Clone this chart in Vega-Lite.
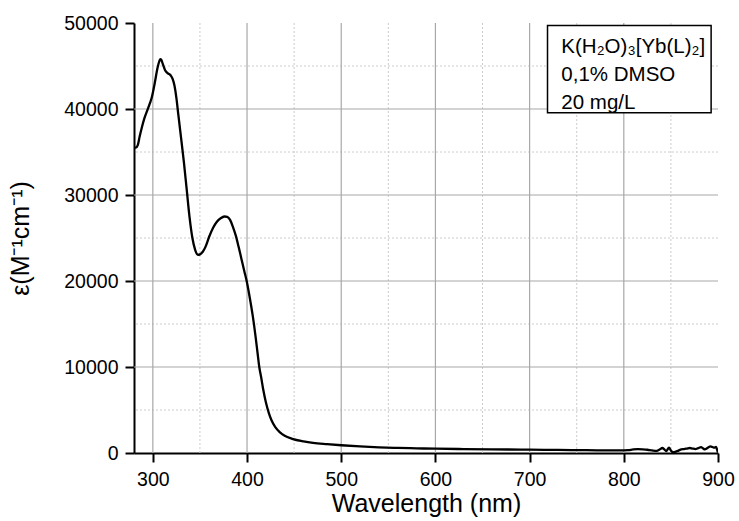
{
  "$schema": "https://vega.github.io/schema/vega-lite/v6.json",
  "width": 584,
  "height": 430,
  "autosize": "none",
  "padding": {"left": 134, "top": 23, "right": 21, "bottom": 68},
  "background": "white",
  "config": {"view": {"stroke": null}, "font": "Liberation Sans", "axis": {"domain": true, "ticks": true, "domainColor": "#000000", "tickColor": "#000000", "domainOpacity": 1, "tickOpacity": 1, "domainWidth": 2, "tickWidth": 2, "grid": false}},
  "datasets": {
    "xmajor": [{"v": 300}, {"v": 400}, {"v": 500}, {"v": 600}, {"v": 700}, {"v": 800}],
    "xminor": [{"v": 350}, {"v": 450}, {"v": 550}, {"v": 650}, {"v": 750}, {"v": 850}],
    "ymajor": [{"v": 10000}, {"v": 20000}, {"v": 30000}, {"v": 40000}],
    "yminor": [{"v": 5000}, {"v": 15000}, {"v": 25000}, {"v": 35000}, {"v": 45000}]
  },
  "layer": [
    {
      "data": {"name": "xminor"},
      "mark": {"type": "rule", "color": "#cccccc", "strokeWidth": 1, "strokeDash": [2, 2]},
      "encoding": {"x": {"field": "v", "type": "quantitative", "title": "Wavelength (nm)"}}
    },
    {
      "data": {"name": "yminor"},
      "mark": {"type": "rule", "color": "#cccccc", "strokeWidth": 1, "strokeDash": [2, 2]},
      "encoding": {"y": {"field": "v", "type": "quantitative", "title": "ε(M⁻¹cm⁻¹)"}}
    },
    {
      "data": {"name": "xmajor"},
      "mark": {"type": "rule", "color": "#a8a8a8", "strokeWidth": 1.2},
      "encoding": {"x": {"field": "v", "type": "quantitative", "title": "Wavelength (nm)"}}
    },
    {
      "data": {"name": "ymajor"},
      "mark": {"type": "rule", "color": "#a8a8a8", "strokeWidth": 1.2},
      "encoding": {"y": {"field": "v", "type": "quantitative", "title": "ε(M⁻¹cm⁻¹)"}}
    },
    {
      "data": {"values": [
        {"wavelength": 280, "eps": 35600}, {"wavelength": 282, "eps": 35500}, {"wavelength": 284, "eps": 35800},
        {"wavelength": 286, "eps": 36800}, {"wavelength": 288, "eps": 37700}, {"wavelength": 291, "eps": 38900},
        {"wavelength": 294, "eps": 39800}, {"wavelength": 297, "eps": 40700}, {"wavelength": 299, "eps": 41400},
        {"wavelength": 302, "eps": 43000}, {"wavelength": 305, "eps": 44800}, {"wavelength": 307, "eps": 45600},
        {"wavelength": 308, "eps": 45800}, {"wavelength": 309, "eps": 45700}, {"wavelength": 311, "eps": 45100},
        {"wavelength": 313, "eps": 44500}, {"wavelength": 316, "eps": 44150}, {"wavelength": 319, "eps": 43900},
        {"wavelength": 321, "eps": 43500}, {"wavelength": 323, "eps": 42700}, {"wavelength": 325, "eps": 41300},
        {"wavelength": 327, "eps": 39400}, {"wavelength": 330, "eps": 36600}, {"wavelength": 333, "eps": 33800},
        {"wavelength": 336, "eps": 30600}, {"wavelength": 339, "eps": 27400}, {"wavelength": 342, "eps": 25000},
        {"wavelength": 345, "eps": 23600}, {"wavelength": 348, "eps": 23050}, {"wavelength": 350, "eps": 23100},
        {"wavelength": 353, "eps": 23400}, {"wavelength": 356, "eps": 24000}, {"wavelength": 360, "eps": 25200},
        {"wavelength": 364, "eps": 26200}, {"wavelength": 368, "eps": 26900}, {"wavelength": 372, "eps": 27300},
        {"wavelength": 376, "eps": 27500}, {"wavelength": 379, "eps": 27450}, {"wavelength": 382, "eps": 27100},
        {"wavelength": 385, "eps": 26300}, {"wavelength": 388, "eps": 25300}, {"wavelength": 391, "eps": 24000},
        {"wavelength": 394, "eps": 22600}, {"wavelength": 397, "eps": 21200}, {"wavelength": 400, "eps": 19800},
        {"wavelength": 403, "eps": 18000}, {"wavelength": 406, "eps": 16000}, {"wavelength": 409, "eps": 13600},
        {"wavelength": 411, "eps": 11800}, {"wavelength": 413, "eps": 10000}, {"wavelength": 415, "eps": 8800},
        {"wavelength": 417, "eps": 7500}, {"wavelength": 420, "eps": 5900}, {"wavelength": 423, "eps": 4700},
        {"wavelength": 426, "eps": 3800}, {"wavelength": 430, "eps": 3000}, {"wavelength": 435, "eps": 2400},
        {"wavelength": 440, "eps": 2000}, {"wavelength": 448, "eps": 1650}, {"wavelength": 460, "eps": 1350},
        {"wavelength": 470, "eps": 1180}, {"wavelength": 485, "eps": 1030}, {"wavelength": 500, "eps": 900},
        {"wavelength": 520, "eps": 760}, {"wavelength": 540, "eps": 660}, {"wavelength": 560, "eps": 590},
        {"wavelength": 580, "eps": 540}, {"wavelength": 600, "eps": 500}, {"wavelength": 630, "eps": 460},
        {"wavelength": 660, "eps": 420}, {"wavelength": 700, "eps": 390}, {"wavelength": 730, "eps": 360},
        {"wavelength": 760, "eps": 330}, {"wavelength": 790, "eps": 300}, {"wavelength": 800, "eps": 310},
        {"wavelength": 805, "eps": 330}, {"wavelength": 810, "eps": 420}, {"wavelength": 815, "eps": 440},
        {"wavelength": 820, "eps": 420}, {"wavelength": 825, "eps": 380}, {"wavelength": 830, "eps": 300},
        {"wavelength": 835, "eps": 250}, {"wavelength": 838, "eps": 400}, {"wavelength": 841, "eps": 580},
        {"wavelength": 843, "eps": 420}, {"wavelength": 845, "eps": 220}, {"wavelength": 848, "eps": 620},
        {"wavelength": 850, "eps": 300}, {"wavelength": 852, "eps": 80}, {"wavelength": 855, "eps": 150},
        {"wavelength": 858, "eps": 280}, {"wavelength": 861, "eps": 420}, {"wavelength": 864, "eps": 460},
        {"wavelength": 867, "eps": 520}, {"wavelength": 870, "eps": 580}, {"wavelength": 873, "eps": 520},
        {"wavelength": 876, "eps": 460}, {"wavelength": 879, "eps": 560}, {"wavelength": 882, "eps": 680},
        {"wavelength": 884, "eps": 550}, {"wavelength": 886, "eps": 420}, {"wavelength": 888, "eps": 520},
        {"wavelength": 890, "eps": 680}, {"wavelength": 892, "eps": 760}, {"wavelength": 894, "eps": 700},
        {"wavelength": 896, "eps": 620}, {"wavelength": 898, "eps": 720}, {"wavelength": 899, "eps": 400},
        {"wavelength": 900, "eps": 50}
      ]},
      "mark": {"type": "line", "color": "black", "strokeWidth": 2.3, "interpolate": "monotone", "clip": true},
      "encoding": {
        "x": {
          "field": "wavelength", "type": "quantitative", "title": "Wavelength (nm)",
          "scale": {"domain": [280, 900], "nice": false, "zero": false},
          "axis": {
            "values": [300, 400, 500, 600, 700, 800, 900],
            "title": "Wavelength (nm)", "titleFontSize": 25, "titleFontWeight": "normal", "titleColor": "black", "titlePadding": 3,
            "labelFontSize": 19.5, "labelColor": "black", "labelPadding": 8, "labelFlush": false, "labelOverlap": false,
            "tickSize": 9,
            "grid": false
          }
        },
        "y": {
          "field": "eps", "type": "quantitative", "title": "ε(M⁻¹cm⁻¹)",
          "scale": {"domain": [0, 50000], "nice": false},
          "axis": {
            "values": [0, 10000, 20000, 30000, 40000, 50000],
            "format": "d",
            "title": "ε(M⁻¹cm⁻¹)", "titleFontSize": 25, "titleFontWeight": "normal", "titleColor": "black", "titlePadding": 30,
            "labelFontSize": 19.5, "labelColor": "black", "labelPadding": 7, "labelFlush": false, "labelOverlap": false,
            "tickSize": 9,
            "grid": false
          }
        }
      }
    },
    {
      "data": {"values": [{}]},
      "mark": {"type": "rect", "fill": "white", "stroke": "black", "strokeWidth": 1.5},
      "encoding": {
        "x": {"datum": 719, "type": "quantitative"},
        "x2": {"datum": 892.7},
        "y": {"datum": 49720, "type": "quantitative"},
        "y2": {"datum": 39570}
      }
    },
    {
      "data": {"values": [{}]},
      "mark": {"type": "text", "text": ["K(H₂O)₃[Yb(L)₂]", "0,1% DMSO", "20 mg/L"], "align": "left", "baseline": "alphabetic", "fontSize": 20.5, "lineHeight": 28, "color": "black"},
      "encoding": {
        "x": {"datum": 733.7, "type": "quantitative"},
        "y": {"datum": 46510, "type": "quantitative"}
      }
    }
  ]
}
